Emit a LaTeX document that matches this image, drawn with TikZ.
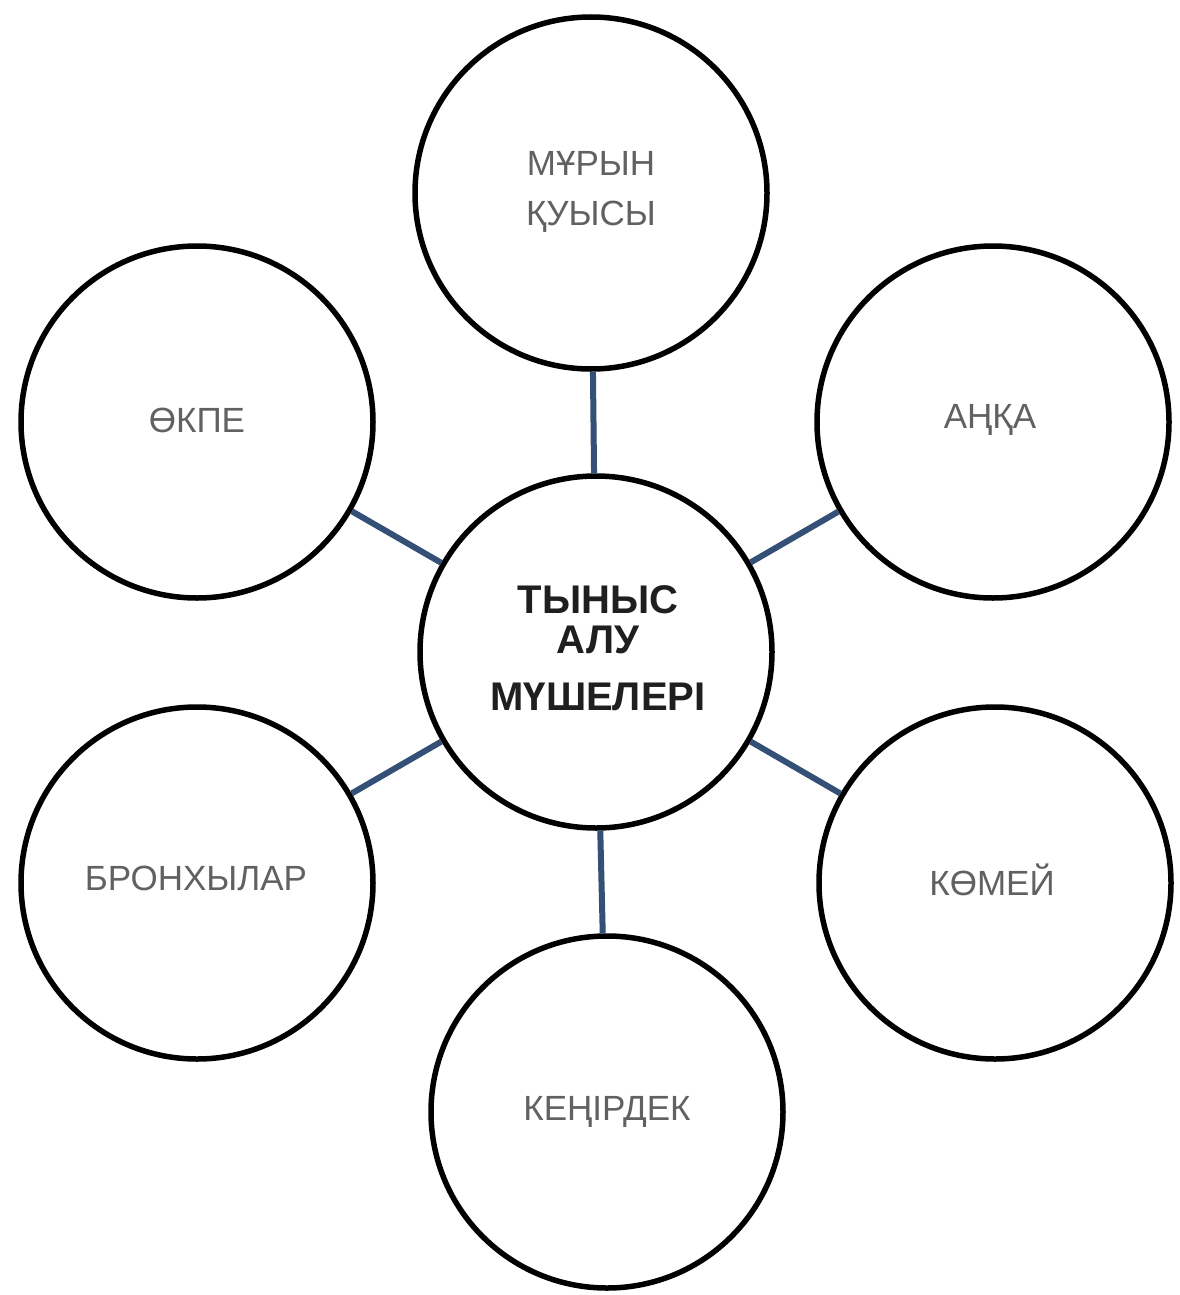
\documentclass[tikz,border=0pt]{standalone}
\usepackage{fontspec}
\setmainfont{Liberation Sans}
\begin{document}
\begin{tikzpicture}[x=1pt,y=-1pt,
  organ/.style={circle,draw=black,line width=5.5pt,minimum size=352pt,inner sep=0pt,fill=white},
  lbl/.style={text=black!62,font=\fontsize{35}{50}\selectfont,align=center},
  hub/.style={text=black!88,font=\bfseries\fontsize{40}{46}\selectfont,align=center},
  link/.style={draw={rgb,255:red,52;green,80;blue,118},line width=6pt}]
\useasboundingbox[fill=white] (0,0) rectangle (1179,1295);
\node[organ] (c)  at (596,652) {};
\node[organ] (n)  at (591,193) {};
\node[organ] (ul) at (197,422) {};
\node[organ] (ur) at (993,422) {};
\node[organ] (ll) at (197,883) {};
\node[organ] (lr) at (995,883) {};
\node[organ] (b)  at (607,1112) {};
\draw[link] (c) -- (n);
\draw[link] (c) -- (ul);
\draw[link] (c) -- (ur);
\draw[link] (c) -- (ll);
\draw[link] (c) -- (lr);
\draw[link] (c) -- (b);
\node[hub] (tc) at (598,648) {ТЫНЫС\\[-6pt]АЛУ\\[11pt]МҮШЕЛЕРІ};
\node[lbl] (tn) at (591,192) {МҰРЫН\\ҚУЫСЫ};
\node[lbl] (tul) at (197,420) {ӨКПЕ};
\node[lbl] (tur) at (990,420) {АҢҚА};
\node[lbl] (tll) at (196,878) {БРОНХЫЛАР};
\node[lbl] (tlr) at (992,880) {КӨМЕЙ};
\node[lbl] (tb) at (607,1112) {КЕҢІРДЕК};
\end{tikzpicture}
\end{document}
